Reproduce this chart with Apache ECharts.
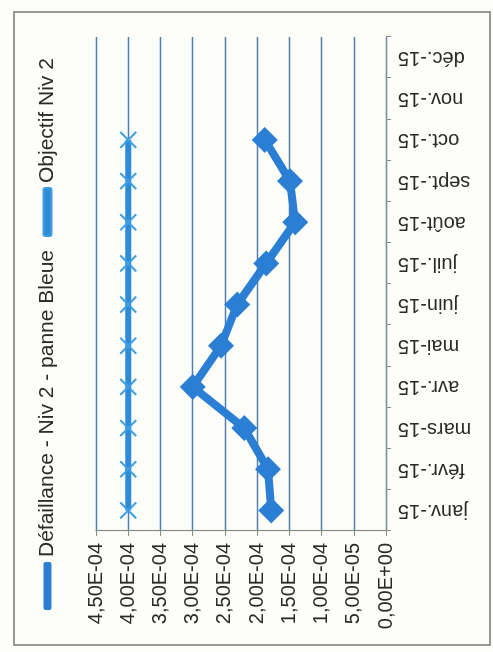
<!DOCTYPE html>
<html>
<head>
<meta charset="utf-8">
<script src="https://cdn.jsdelivr.net/npm/echarts@6/dist/echarts.min.js"></script>
<style>
html,body{margin:0;padding:0;width:493px;height:652px;overflow:hidden;background:#fdfdf9;}
#c{position:absolute;left:0;top:0;width:652px;height:493px;transform-origin:0 0;transform:translate(0px,652px) rotate(-90deg);}
</style>
</head>
<body>
<div id="c"></div>
<script>
const months = ['janv.-15','févr.-15','mars-15','avr.-15','mai-15','juin-15','juil.-15','août-15','sept.-15','oct.-15','nov.-15','déc.-15'];
const defaillance = [1.78e-4, 1.83e-4, 2.20e-4, 3.00e-4, 2.56e-4, 2.31e-4, 1.86e-4, 1.41e-4, 1.49e-4, 1.88e-4, null, null];
const objectif = [4.0e-4, 4.0e-4, 4.0e-4, 4.0e-4, 4.0e-4, 4.0e-4, 4.0e-4, 4.0e-4, 4.0e-4, 4.0e-4, null, null];
const seriesNames = ['Défaillance - Niv 2 - panne Bleue', 'Objectif Niv 2'];
const yMin = 0, yMax = 4.5e-4, yStep = 5e-5;

function fmt(v){
  if (Math.abs(v) < 1e-12) return '0,00E+00';
  const s = v.toExponential(2);
  const parts = s.split('e');
  const sign = parts[1][0] === '-' ? '-' : '+';
  let d = parts[1].replace(/[+-]/, '');
  if (d.length < 2) d = '0' + d;
  return parts[0].replace('.', ',') + 'E' + sign + d;
}

const chart = echarts.init(document.getElementById('c'), null, {renderer:'canvas'});
const font = 'Liberation Sans, Arial, sans-serif';
chart.setOption({
  backgroundColor: '#fdfdf9',
  animation: false,
  graphic: [{
    type: 'rect', shape: {x: 7, y: 14, width: 633, height: 476},
    style: {fill: 'none', stroke: '#777', lineWidth: 1.5}, silent: true, z: -1
  }],
  legend: {
    top: 37, left: 42, padding: 0, itemGap: 13,
    itemWidth: 48, itemHeight: 8, icon: 'roundRect',
    textStyle: {fontFamily: font, fontSize: 21, color: '#2a2a2a'},
    data: seriesNames
  },
  grid: {left: 121, right: 37, top: 96, bottom: 107, containLabel: false},
  xAxis: {
    type: 'category', data: months, boundaryGap: true,
    axisLine: {show: true, lineStyle: {color: '#8a8a8a', width: 1.2}},
    axisTick: {show: true, length: 5, lineStyle: {color: '#8a8a8a'}},
    axisLabel: {rotate: 90, margin: 12, fontFamily: font, fontSize: 20, color: '#2a2a2a', interval: 0},
    splitLine: {show: false}
  },
  yAxis: {
    type: 'value', min: yMin, max: yMax, interval: yStep,
    axisLine: {show: true, lineStyle: {color: '#8a8a8a', width: 1.2}},
    axisTick: {show: true, length: 5, lineStyle: {color: '#8a8a8a'}},
    axisLabel: {formatter: fmt, margin: 12, fontFamily: font, fontSize: 20, color: '#2a2a2a'},
    splitLine: {show: true, lineStyle: {color: '#5080b2', width: 1.4}}
  },
  series: [{
    name: seriesNames[0], type: 'line', data: defaillance,
    symbol: 'diamond', symbolSize: 26,
    lineStyle: {color: '#2a7ed3', width: 8},
    itemStyle: {color: '#2a7ed3'},
    z: 3
  }, {
    name: seriesNames[1], type: 'line', data: objectif,
    symbol: 'path://M0,0L10,10M10,0L0,10', symbolSize: 16,
    lineStyle: {color: '#2f8ad8', width: 6},
    itemStyle: {color: '#2f8ad8', borderColor: '#3e9fe4', borderWidth: 2},
    z: 2
  }]
});
</script>
</body>
</html>
